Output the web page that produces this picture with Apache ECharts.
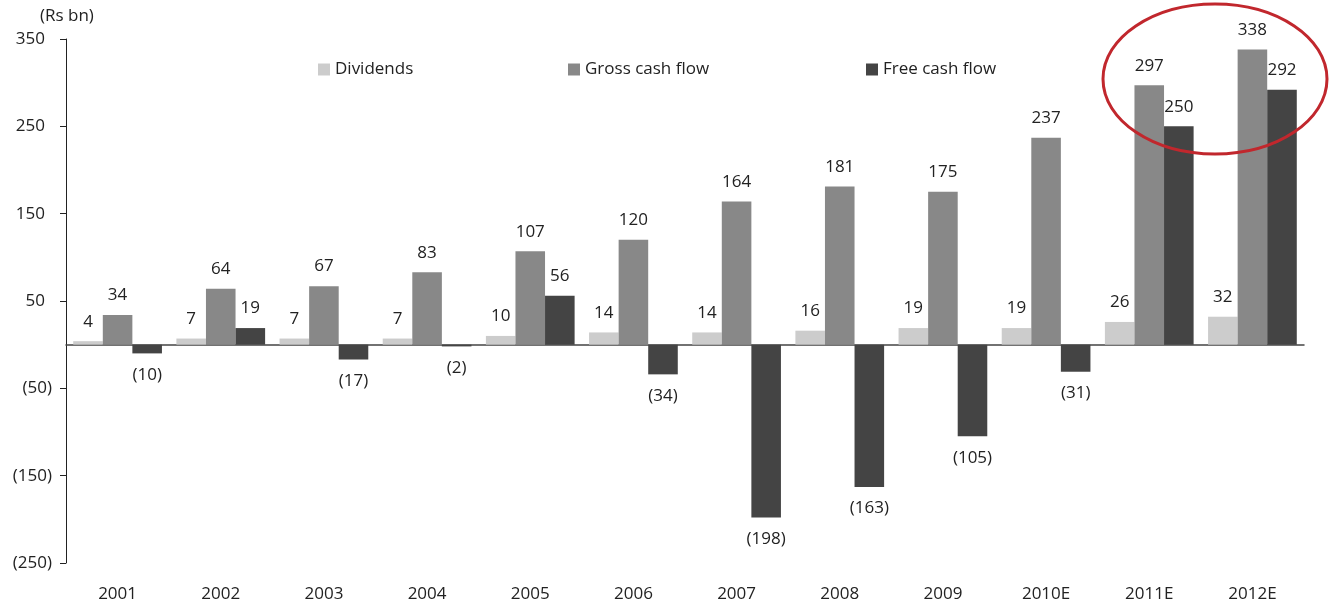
<!DOCTYPE html>
<html><head><meta charset="utf-8">
<script src="https://cdn.jsdelivr.net/npm/echarts@6/dist/echarts.min.js"></script>
<style>html,body{margin:0;padding:0;background:#fff}#c{width:1330px;height:608px}</style>
</head><body><div id="c"></div>
<script>
const categories = ['2001','2002','2003','2004','2005','2006','2007','2008','2009','2010E','2011E','2012E'];
const dividends = [4,7,7,7,10,14,14,16,19,19,26,32];
const grossCashFlow = [34,64,67,83,107,120,164,181,175,237,297,338];
const freeCashFlow = [-10,19,-17,-2,56,-34,-198,-163,-105,-31,250,292];
const yTicks = [-250,-150,-50,50,150,250,350];

const FONT = '"Open Sans", "Noto Sans", sans-serif';
const FS = 17;
const fmt = v => v < 0 ? '(' + Math.abs(v) + ')' : String(v);
const chart = echarts.init(document.getElementById('c'));
const lbl = {show:true, position:'top', distance:11, fontSize:FS, color:'#222', fontFamily:FONT,
  formatter: p => fmt(p.value)};
function mkSeries(name, data, color){
  return {name, type:'bar', data: data.map(v => ({value:v, label: v < 0 ? {position:'bottom', distance:13} : {}})),
    itemStyle:{color}, barGap:'0%', barCategoryGap:'14%', label:lbl, xAxisIndex:0};
}
const legendBase = {top:61, padding:0, itemWidth:12, itemHeight:12, icon:'rect', textStyle:{fontSize:FS, color:'#222', fontFamily:FONT}, itemGap:6, selectedMode:false};
chart.setOption({
  animation:false,
  grid:{left:66, right:26, top:39, bottom:45},
  legend:[
    Object.assign({left:318, data:['Dividends']}, legendBase),
    Object.assign({left:568, data:['Gross cash flow']}, legendBase),
    Object.assign({left:866, data:['Free cash flow']}, legendBase)
  ],
  xAxis:[
    {type:'category', data:categories, position:'bottom',
      axisLine:{show:false, onZero:false}, axisTick:{show:false},
      axisLabel:{fontSize:FS, color:'#222', fontFamily:FONT, margin:23}},
    {type:'category', data:categories, position:'bottom',
      axisLine:{show:true, onZero:true, lineStyle:{color:'#444', width:1.5}}, axisTick:{show:false},
      axisLabel:{show:false}}
  ],
  yAxis:{type:'value', min:-250, max:350,
    axisLine:{show:true, lineStyle:{color:'#222', width:1}},
    axisTick:{show:true, length:6, customValues:yTicks, lineStyle:{color:'#222'}},
    axisLabel:{customValues:yTicks, formatter:v => v < 0 ? fmt(v) : v + '{p|}',
      rich:{p:{width:7}},
      fontSize:FS, color:'#222', fontFamily:FONT, margin:14},
    splitLine:{show:false}},
  graphic:[
    {type:'text', left:40, top:8, style:{text:'(Rs bn)', fontSize:FS, fill:'#222', fontFamily:FONT}},
    {type:'ellipse', shape:{cx:1215, cy:79, rx:112, ry:75}, style:{fill:'none', stroke:'#c1272d', lineWidth:3}, z:100}
  ],
  series:[
    mkSeries('Dividends', dividends, '#cccccc'),
    mkSeries('Gross cash flow', grossCashFlow, '#888888'),
    mkSeries('Free cash flow', freeCashFlow, '#444444')
  ]
});
</script></body></html>
